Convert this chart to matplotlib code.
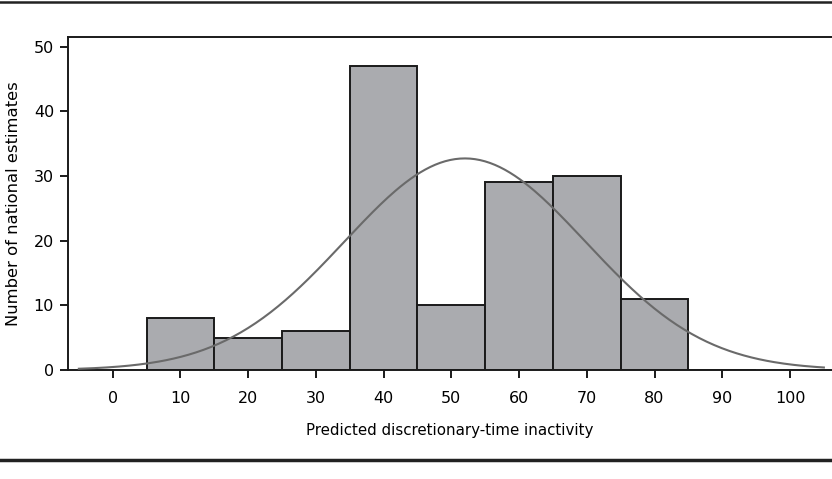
import numpy as np
import matplotlib.pyplot as plt
from matplotlib.lines import Line2D

# histogram bins (left edges) and counts
bin_left = [5, 15, 25, 35, 45, 55, 65, 75, 85]
counts = [8, 5, 6, 47, 10, 29, 30, 11, 0]
bin_width = 10
# fitted normal curve parameters
mu = 52.0
sigma = 17.8
n_total = sum(counts)

xticks = [0, 10, 20, 30, 40, 50, 60, 70, 80, 90, 100]
yticks = [0, 10, 20, 30, 40, 50]

fig = plt.figure(figsize=(8.32, 4.79), dpi=100)
ax = fig.add_axes([68/832, 109/479, 1 - 68/832, 333/479])

ax.bar(bin_left, counts, width=bin_width, align='edge',
       color='#aaabaf', edgecolor='#1a1a1a', linewidth=1.4, zorder=2)

xs = np.linspace(-5, 105, 300)
ys = n_total * bin_width / (sigma * np.sqrt(2 * np.pi)) * np.exp(-0.5 * ((xs - mu) / sigma) ** 2)
ax.plot(xs, ys, color='#6a6a6a', linewidth=1.5, zorder=3)

ax.set_xlim(-6.6, 106.2)
ax.set_ylim(0, 51.5)
ax.set_xticks(xticks)
ax.set_yticks(yticks)
ax.spines['right'].set_visible(False)
for s in ['left', 'top', 'bottom']:
    ax.spines[s].set_linewidth(1.4)
    ax.spines[s].set_color('#1a1a1a')
ax.tick_params(axis='both', direction='out', length=6, width=1.4, labelsize=11.5, color='#1a1a1a')
ax.tick_params(axis='x', pad=9)
ax.tick_params(axis='y', pad=4)

ax.set_xlabel('Predicted discretionary-time inactivity', fontsize=10.8, labelpad=12)
ax.set_ylabel('Number of national estimates', fontsize=11.8, labelpad=9)

# horizontal rules at top and bottom of figure
fig.add_artist(Line2D([0, 1], [1 - 2/479, 1 - 2/479], color='#222222', linewidth=1.8))
fig.add_artist(Line2D([0, 1], [1 - 460/479, 1 - 460/479], color='#222222', linewidth=2.5))

fig.savefig('out.png', dpi=100)
